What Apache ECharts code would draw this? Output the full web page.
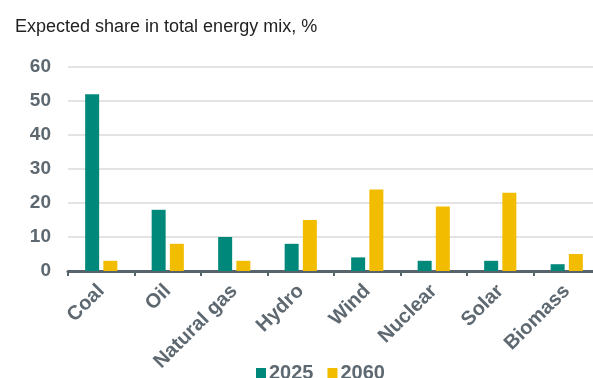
<!DOCTYPE html>
<html>
<head>
<meta charset="utf-8">
<script src="https://cdn.jsdelivr.net/npm/echarts@6/dist/echarts.min.js"></script>
<style>
html,body{margin:0;padding:0;background:#fff;overflow:hidden;}
#chart{width:593px;height:378px;}
</style>
</head>
<body>
<div id="chart"></div>
<script>
const categories = ['Coal', 'Oil', 'Natural gas', 'Hydro', 'Wind', 'Nuclear', 'Solar', 'Biomass'];
const values2025 = [52, 18, 10, 8, 4, 3, 3, 2];
const values2060 = [3, 8, 3, 15, 24, 19, 23, 5];
const seriesNames = ['2025', '2060'];
const yTicks = [0, 10, 20, 30, 40, 50, 60];

const chart = echarts.init(document.getElementById('chart'), null, {renderer: 'canvas'});
const font = '"Liberation Sans", Arial, sans-serif';
chart.setOption({
  animation: false,
  textStyle: {fontFamily: font},
  title: {
    text: 'Expected share in total energy mix, %',
    left: 10, top: 13,
    textStyle: {fontFamily: font, fontSize: 18, fontWeight: 'normal', color: '#222'}
  },
  legend: {
    data: seriesNames,
    top: 358, left: 251,
    itemWidth: 10, itemHeight: 10, itemGap: 14,
    icon: 'rect',
    textStyle: {fontFamily: font, fontSize: 20, fontWeight: 'bold', color: '#5d6870', padding: [0,0,0,-2]}
  },
  grid: {left: 68, width: 532, top: 67, bottom: 107, outerBoundsMode: 'none', containLabel: false},
  xAxis: {
    type: 'category',
    data: categories,
    axisLine: {lineStyle: {color: '#58646c', width: 3}},
    axisTick: {show: true, length: 5, lineStyle: {color: '#58646c', width: 2}},
    axisLabel: {rotate: 45, margin: 17, fontSize: 20, fontWeight: 'bold', color: '#5d6870', fontFamily: font}
  },
  yAxis: {
    type: 'value',
    min: yTicks[0], max: yTicks[yTicks.length-1], interval: 10,
    axisLine: {show: false},
    axisTick: {show: false},
    splitLine: {lineStyle: {color: '#dadada', width: 1.5}},
    axisLabel: {margin: 17, fontSize: 19, fontWeight: 'bold', color: '#5d6870', fontFamily: font}
  },
  series: [
    {name: seriesNames[0], type: 'bar', data: values2025, barWidth: 14, barGap: '30%', itemStyle: {color: '#00897b'}},
    {name: seriesNames[1], type: 'bar', data: values2060, barWidth: 14, barGap: '30%', itemStyle: {color: '#f2bd00'}}
  ]
});
</script>
</body>
</html>
